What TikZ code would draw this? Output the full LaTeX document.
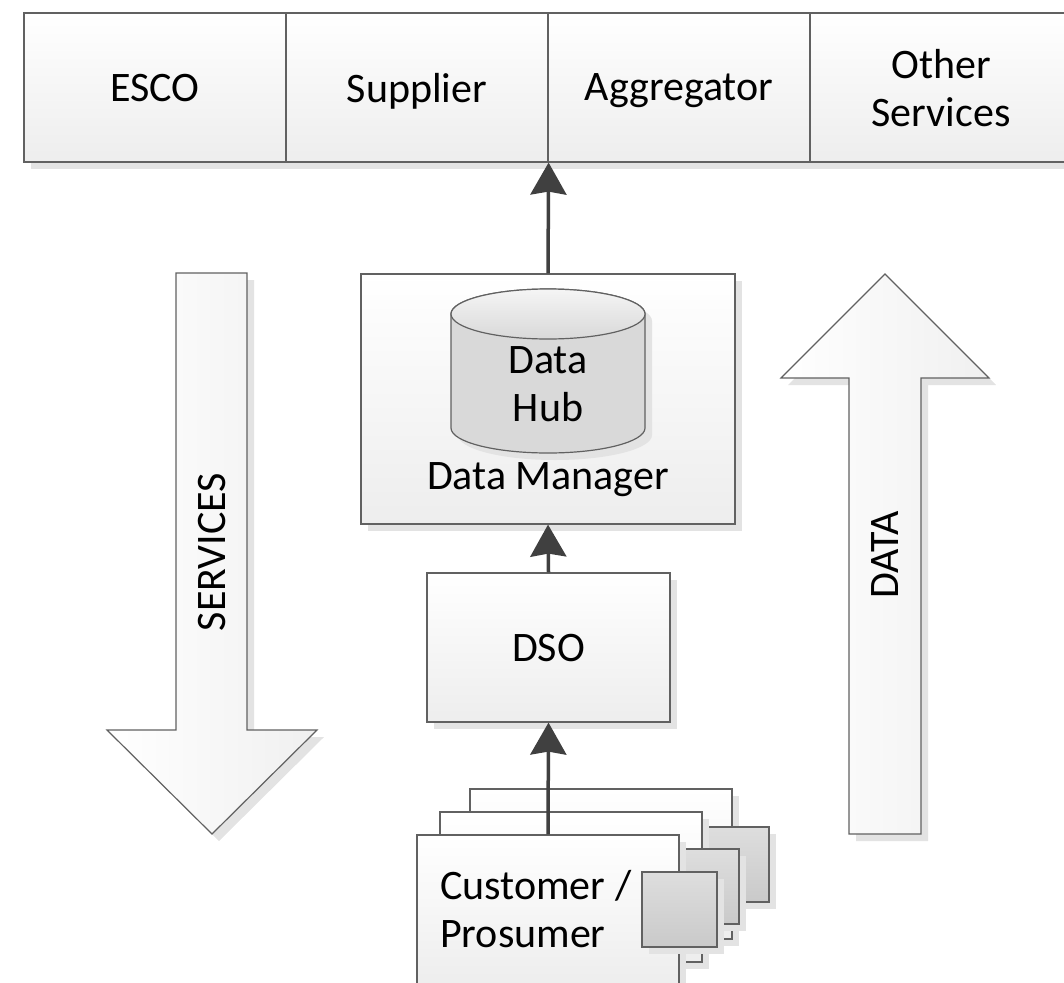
\documentclass[tikz,border=0pt]{standalone}
\usepackage{fontspec}
\setmainfont{Carlito}
\usetikzlibrary{arrows.meta,positioning,shadows}

\begin{document}
\begin{tikzpicture}[x=1pt,y=-1pt,
  every node/.style={font=\fontsize{42}{48}\selectfont},
  shadowed/.style={drop shadow={shadow xshift=7pt,shadow yshift=-7pt,fill=black!11,opacity=1}},
  box/.style={draw=black!62,line width=1.2pt,top color=white,bottom color=black!7,shadowed,inner sep=0pt,align=center,text depth=0pt},
  sqbox/.style={draw=black!62,line width=1.2pt,top color=black!13,bottom color=black!21,shadowed,inner sep=0pt},
  bigarrow/.style={draw=black!62,line width=1.2pt,left color=white,right color=black!6,shadowed},
  conn/.style={-{Stealth[length=32pt,width=36pt,inset=3pt]},line width=3.5pt,draw=black!75}]
  \useasboundingbox (0,0) rectangle (1064,982);

  % service providers
  \foreach \n/\t [count=\i] in {esco/ESCO,supplier/Supplier,aggregator/Aggregator,other/{Other\\Services}}
    \node[box,minimum width=262pt,minimum height=149pt] (\n) at ({155+262*(\i-1)},87.5) {\t};

  % data manager with hub
  \node[box,minimum width=374pt,minimum height=250pt] (dm) at (548,399) {};
  \draw[draw=black!62,line width=1.2pt,fill=black!15,shadowed] (451,314) -- (451,428)
    arc[start angle=180,end angle=0,x radius=97,y radius=25] -- (645,314)
    arc[start angle=0,end angle=-180,x radius=97,y radius=25] -- cycle;
  \draw[draw=black!62,line width=1.2pt,top color=black!4,bottom color=black!15] (548,314) ellipse [x radius=97,y radius=25];
  \node[align=center] (hub) at (548,384) {Data\\Hub};
  \node (dmtext) at (548,480) {Data Manager};

  \node[box,minimum width=243pt,minimum height=149pt] (dso) at (548.5,647.5) {DSO};

  % customers
  \node[box,minimum width=262pt,minimum height=150pt] (page3) at (601,864) {};
  \node[sqbox,minimum width=67pt,minimum height=75pt] (sq3) at (735.5,864.5) {};
  \node[box,minimum width=262pt,minimum height=150pt] (page2) at (571,887) {};
  \node[sqbox,minimum width=59pt,minimum height=75pt] (sq2) at (709.5,886.5) {};
  \node[box,minimum width=262pt,minimum height=150pt] (page1) at (548,910) {};
  \node[sqbox,minimum width=75pt,minimum height=75pt] (sq1) at (679.5,909.5) {};
  \node[anchor=west,align=left,inner sep=0pt] (cust) at (440,909) {Customer /\\Prosumer};

  % big arrows
  \draw[bigarrow] (176,273) -- (247,273) -- (247,730) -- (317,730) -- (212,834) -- (107,730) -- (176,730) -- cycle;
  \node[rotate=90] (services) at (212,552) {SERVICES};
  \draw[bigarrow] (849,834) -- (849,378) -- (781,378) -- (885,274) -- (989,378) -- (921,378) -- (921,834) -- cycle;
  \node[rotate=90] (data) at (885,555) {DATA};

  \draw[conn] (page1.north) -- (dso.south);
  \draw[conn] (dso.north) -- (dm.south);
  \draw[conn] (dm.north) -- (supplier.south east);
\end{tikzpicture}
\end{document}
